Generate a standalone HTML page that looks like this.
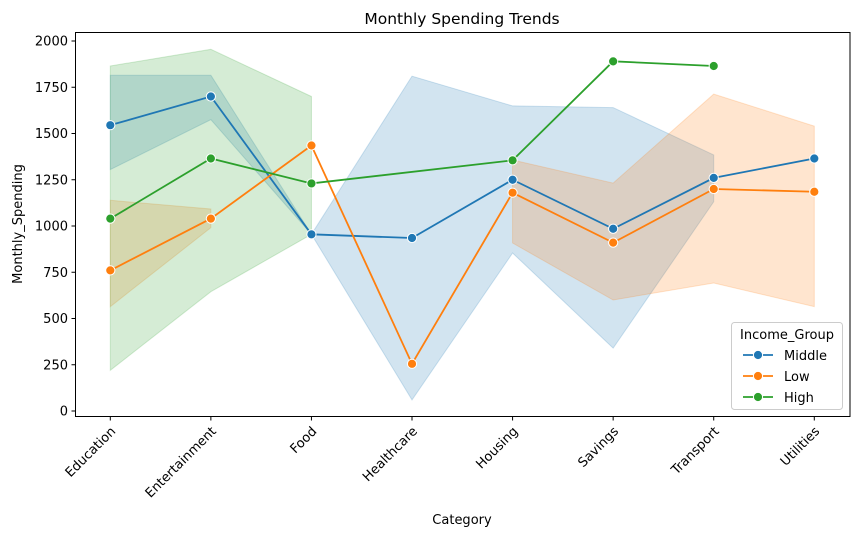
<!DOCTYPE html>
<html><head><meta charset="utf-8"><style>
body{margin:0;background:#fff;}
svg{display:block;font-family:"DejaVu Sans","Liberation Sans",sans-serif;}
</style></head><body>
<svg id="chart" width="859" height="537" viewBox="0 0 859 537" xmlns="http://www.w3.org/2000/svg">
<rect x="0" y="0" width="859" height="537" fill="#fff"/>
<g id="bands"></g><g id="lines"></g>
<rect x="75.5" y="32.5" width="774.5" height="384" fill="none" stroke="#000" stroke-width="1"/>
<g id="axes"></g>
<text x="462" y="24" text-anchor="middle" font-size="15.5px">Monthly Spending Trends</text>
<text x="462" y="524" text-anchor="middle" font-size="13px">Category</text>
<text transform="translate(22,224) rotate(-90)" text-anchor="middle" font-size="13px">Monthly_Spending</text>
<g id="legend"></g>
</svg>
<script>
const categories=["Education","Entertainment","Food","Healthcare","Housing","Savings","Transport","Utilities"];
const yTicks=[0,250,500,750,1000,1250,1500,1750,2000];
const seriesNames=["Middle","Low","High"];
const seriesColors=["#1f77b4","#ff7f0e","#2ca02c"];
const middleVals=[1545,1700,955,935,1250,985,1260,1365];
const middleLo=[1305,1575,955,60,854,340,1131,null];
const middleHi=[1815,1815,955,1810,1649,1640,1384,null];
const lowVals=[760,1040,1435,255,1180,910,1200,1185];
const lowLo=[564,991,null,null,908,600,692,564];
const lowHi=[1139,1092,null,null,1357,1232,1713,1540];
const highVals=[1040,1365,1230,null,1355,1890,1865,null];
const highLo=[220,645,955,null,null,null,null,null];
const highHi=[1865,1955,1700,null,null,null,null,null];

const NS="http://www.w3.org/2000/svg";
const X=i=>110.3+i*100.57;
const Y=v=>411-v*0.185;
function mk(tag,attrs,parent){const e=document.createElementNS(NS,tag);for(const k in attrs)e.setAttribute(k,attrs[k]);parent.appendChild(e);return e;}
const axes=document.getElementById('axes'),bands=document.getElementById('bands'),lines=document.getElementById('lines');
yTicks.forEach(t=>{
  const l=mk('line',{x1:71.5,x2:75.5,y1:Y(t),y2:Y(t),stroke:'#000'},axes);
  
  
  const tx=mk('text',{x:68,y:Y(t)+4.5,'text-anchor':'end','font-size':'13px'},axes);
  tx.textContent=t;
  
  
});
categories.forEach((c,i)=>{
  const l=mk('line',{x1:X(i),x2:X(i),y1:416.5,y2:420.5,stroke:'#000'},axes);
  
  
  const tx=mk('text',{transform:`translate(${X(i)+6},${432}) rotate(-45)`,'text-anchor':'end','font-size':'13px'},axes);
  tx.textContent=c;
  
  
});
const series=[[middleVals,middleLo,middleHi],[lowVals,lowLo,lowHi],[highVals,highLo,highHi]];
series.forEach(([v,lo,hi],s)=>{
  const col=seriesColors[s];
  let seg=[];
  const flush=()=>{
    if(seg.length>1){
      const pts=seg.map(i=>X(i)+','+Y(hi[i])).concat(seg.slice().reverse().map(i=>X(i)+','+Y(lo[i])));
      const p=mk('polygon',{points:pts.join(' '),fill:col,'fill-opacity':0.2,stroke:col,'stroke-opacity':0.2},bands);
      
      
    }
    seg=[];
  };
  for(let i=0;i<categories.length;i++){if(lo[i]!=null&&hi[i]!=null)seg.push(i);else flush();}
  flush();
});
series.forEach(([v],s)=>{
  const col=seriesColors[s];
  const idx=v.map((x,i)=>x==null?null:i).filter(i=>i!=null);
  const pl=mk('polyline',{points:idx.map(i=>X(i)+','+Y(v[i])).join(' '),fill:'none',stroke:col,'stroke-width':1.8},lines);
  
  
  idx.forEach(i=>{
    const c=mk('circle',{cx:X(i),cy:Y(v[i]),r:4.6,fill:col,stroke:'#fff','stroke-width':1},lines);
    
    
  });
});
const lg=document.getElementById('legend');
const box=mk('rect',{x:731.5,y:322.5,width:111,height:87,rx:3,fill:'#fff','fill-opacity':0.8,stroke:'#ccc'},lg);


const ttl=mk('text',{x:787,y:339,'text-anchor':'middle','font-size':'13px'},lg);
ttl.textContent='Income_Group';


seriesNames.forEach((n,s)=>{
  const y=355+s*21;
  const g=mk('g',{},lg);
  
  
  mk('line',{x1:743,x2:773,y1:y,y2:y,stroke:seriesColors[s],'stroke-width':1.8},g);
  mk('circle',{cx:758,cy:y,r:4.6,fill:seriesColors[s],stroke:'#fff','stroke-width':1},g);
  const t=mk('text',{x:784,y:y+5,'font-size':'13px'},g);
  t.textContent=n;
});
</script>
</body></html>
